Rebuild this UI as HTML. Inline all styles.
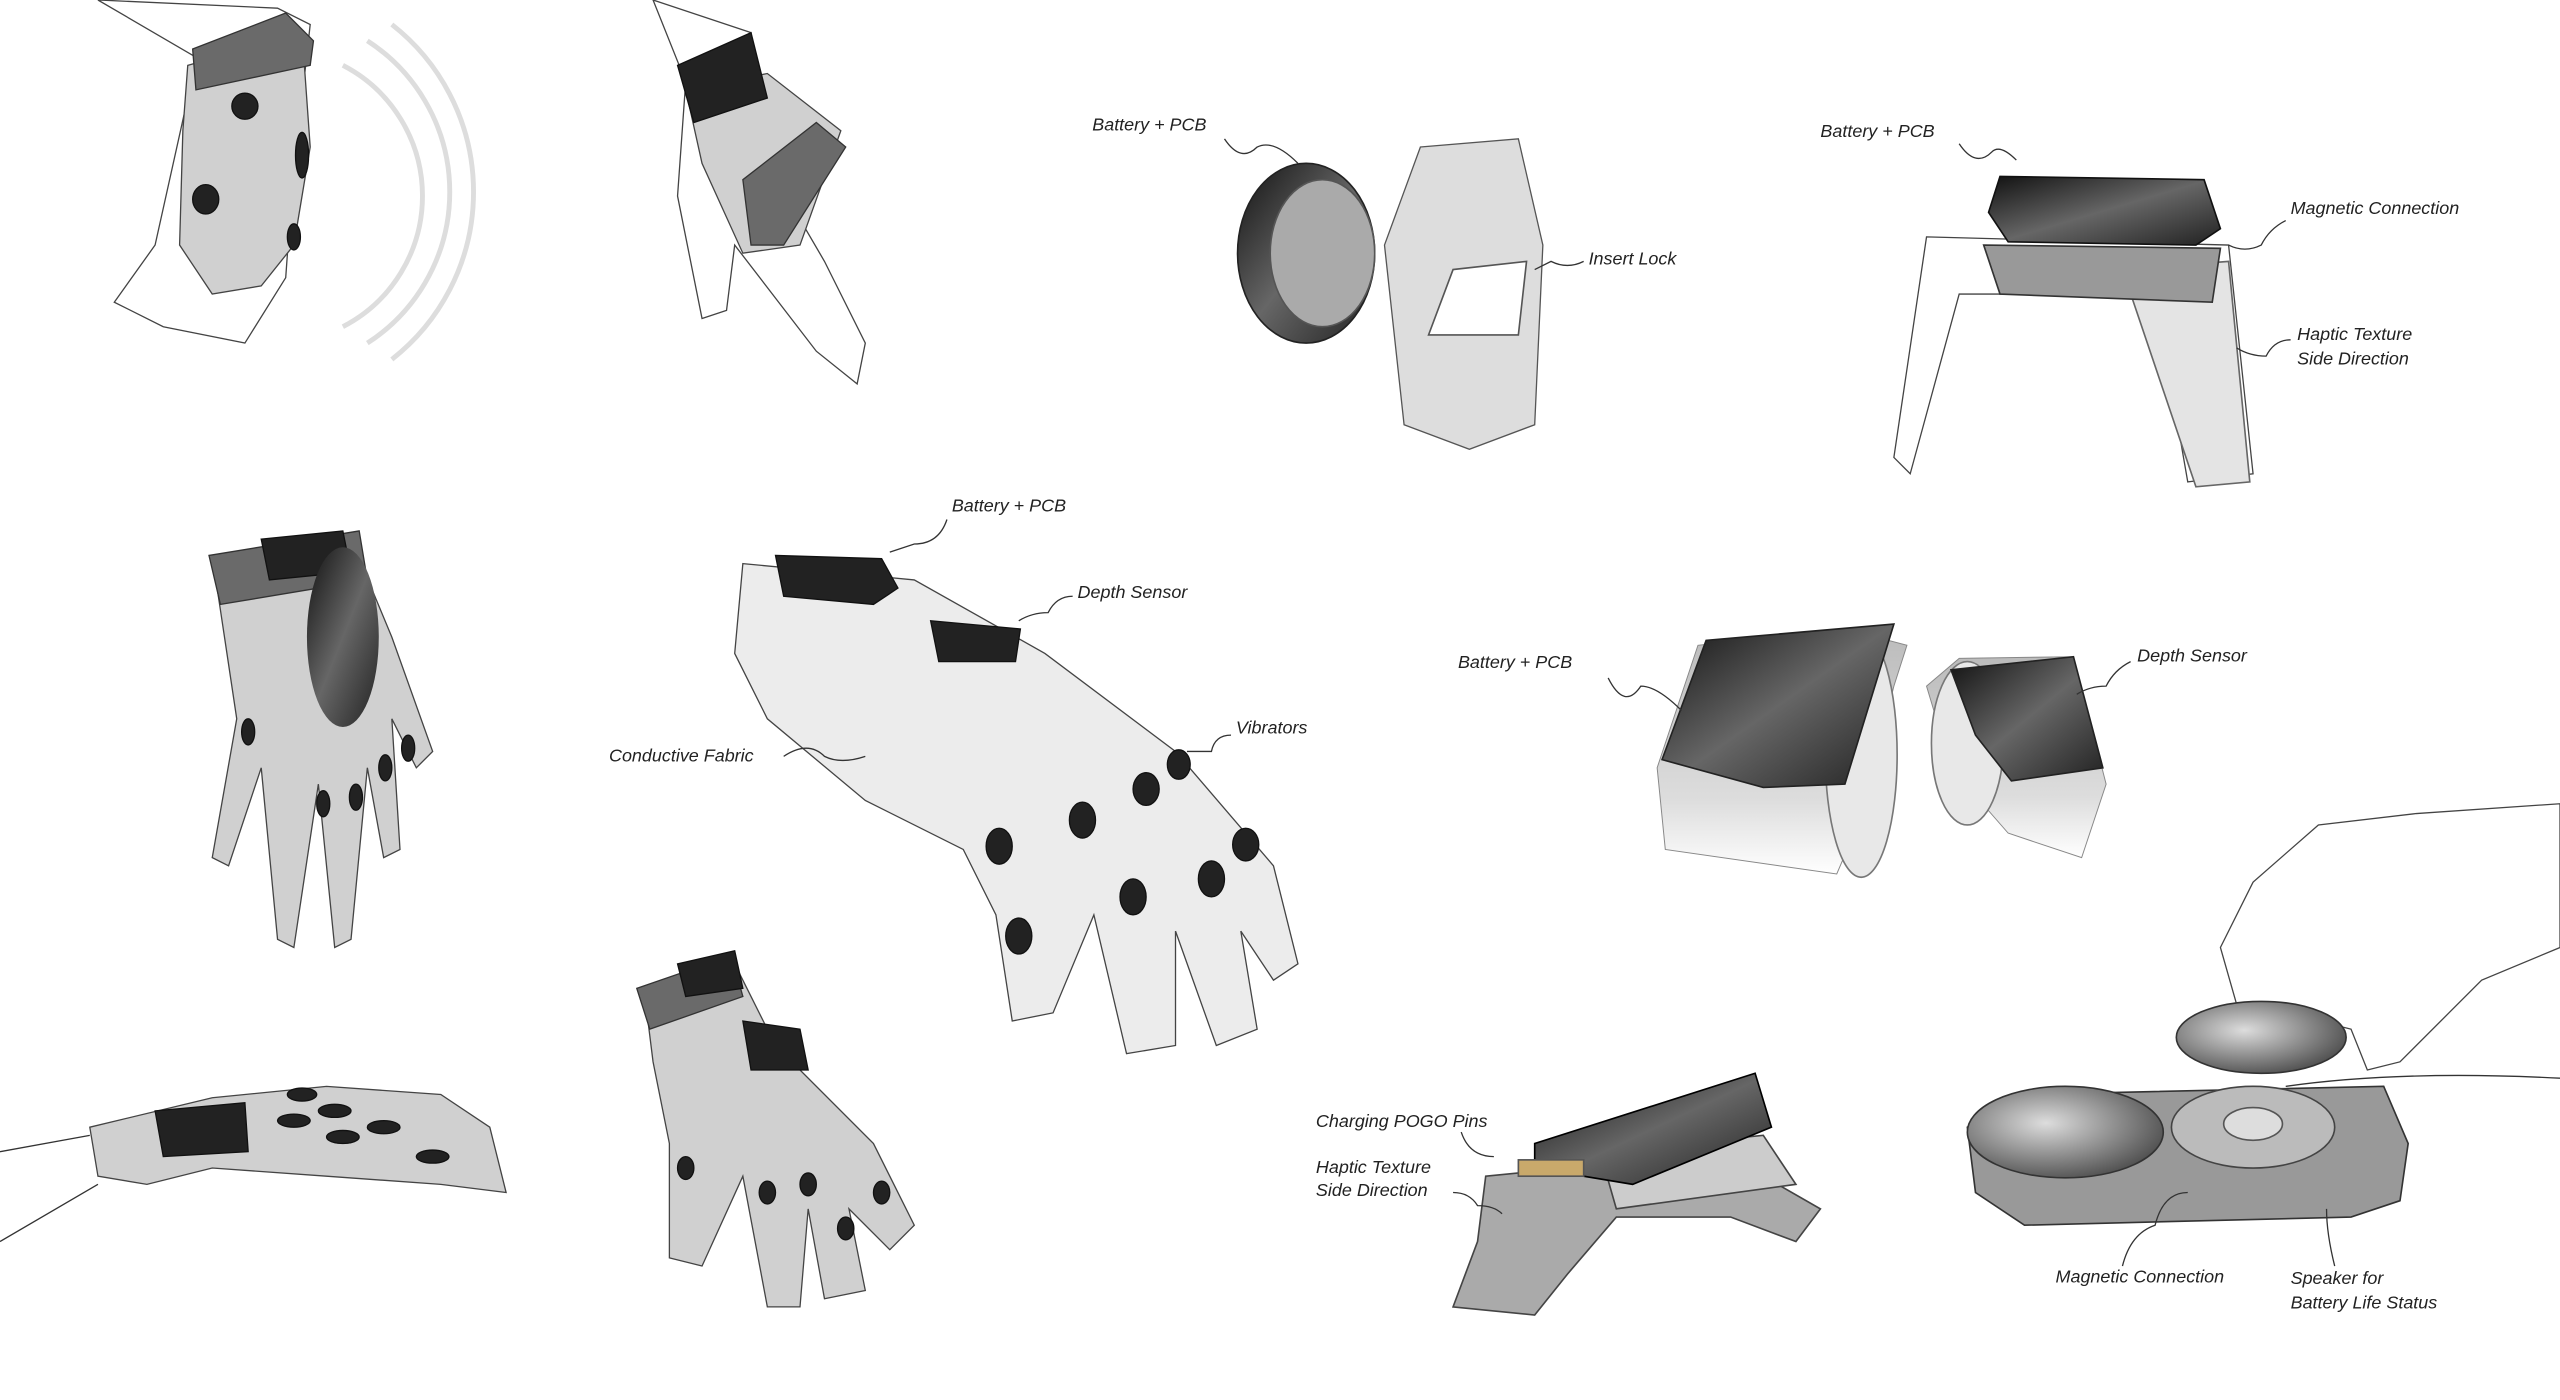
<!DOCTYPE html>
<html><head><meta charset="utf-8"><style>
html,body{margin:0;padding:0;background:#fff;}
svg{display:block;}
text{font-family:"Liberation Sans",sans-serif;font-style:italic;font-size:11px;fill:#222;}
.l{fill:none;stroke:#333;stroke-width:0.8;}
.h{fill:#d0d0d0;stroke:#444;stroke-width:0.8;}
.hw{fill:#fff;stroke:#444;stroke-width:0.8;}
.d{fill:#222;stroke:#111;stroke-width:0.8;}
.m{fill:#6a6a6a;stroke:#333;stroke-width:0.8;}
</style></head><body>
<svg width="2560" height="1400" viewBox="0 0 1568 857" preserveAspectRatio="none" xmlns="http://www.w3.org/2000/svg">
<defs>
<linearGradient id="g1" x1="0" y1="0" x2="1" y2="1"><stop offset="0" stop-color="#111"/><stop offset=".5" stop-color="#666"/><stop offset="1" stop-color="#222"/></linearGradient>
<radialGradient id="g2" cx=".4" cy=".4" r=".7"><stop offset="0" stop-color="#ddd"/><stop offset="1" stop-color="#444"/></radialGradient>
<linearGradient id="g3" x1="0" y1="0" x2="0" y2="1"><stop offset="0" stop-color="#bbb"/><stop offset=".7" stop-color="#ddd"/><stop offset="1" stop-color="#fff"/></linearGradient>
</defs>
<rect width="1568" height="857" fill="#fff"/>

<!-- hand 1 top-left -->
<path class="hw" d="M60,0 L120,35 L115,60 L95,150 L70,185 L100,200 L150,210 L175,170 L180,100 L185,60 L190,15 L170,5Z"/>
<path class="h" d="M115,40 L185,20 L190,90 L180,150 L160,175 L130,180 L110,150 L112,80Z"/>
<path class="m" d="M118,30 L175,8 L192,25 L190,40 L120,55Z"/>
<circle class="d" cx="150" cy="65" r="8"/><ellipse class="d" cx="126" cy="122" rx="8" ry="9"/><ellipse class="d" cx="185" cy="95" rx="4" ry="14"/><ellipse class="d" cx="180" cy="145" rx="4" ry="8"/>
<path d="M210,40 A90,90 0 0 1 210,200 M225,25 A110,110 0 0 1 225,210 M240,15 A130,130 0 0 1 240,220" fill="none" stroke="#ddd" stroke-width="3"/>

<!-- hand 2 -->
<path class="hw" d="M400,0 L420,50 L415,120 L430,195 L445,190 L450,150 L500,215 L525,235 L530,210 L505,160 L470,100 L460,20Z"/>
<path class="h" d="M420,55 L470,45 L515,80 L490,150 L455,155 L430,100Z"/>
<path class="d" d="M415,40 L460,20 L470,60 L425,75Z"/>
<path class="m" d="M455,110 L500,75 L518,90 L480,150 L460,150Z"/>

<!-- watch w/ insert lock -->
<path fill="#ddd" stroke="#555" stroke-width=".8" d="M870,90 L930,85 L945,150 L940,260 L900,275 L860,260 L848,150Z"/>
<path fill="#fff" stroke="#555" d="M875,205 L890,165 L935,160 L930,205Z"/>
<ellipse fill="url(#g1)" stroke="#222" cx="800" cy="155" rx="42" ry="55"/>
<ellipse fill="#aaa" stroke="#555" cx="810" cy="155" rx="32" ry="45"/>
<text x="669" y="80">Battery + PCB</text><path class="l" d="M750,85 q10,15 20,5 q10,-5 25,10"/>
<text x="973" y="162">Insert Lock</text><path class="l" d="M970,160 q-10,5 -20,0 l-10,5"/>

<!-- watch w/ magnetic -->
<path class="hw" d="M1180,145 L1365,150 L1380,290 L1340,295 L1320,180 L1200,180 L1170,290 L1160,280Z"/>
<path fill="#e4e4e4" stroke="#666" d="M1300,165 L1365,160 L1378,295 L1345,298Z"/>
<path fill="#999" stroke="#333" d="M1215,150 L1360,152 L1355,185 L1225,180Z"/>
<path fill="url(#g1)" stroke="#111" d="M1225,108 L1350,110 L1360,140 L1345,150 L1230,148 L1218,130Z"/>
<text x="1115" y="84">Battery + PCB</text><path class="l" d="M1200,88 q10,15 20,5 q5,-5 15,5"/>
<text x="1403" y="131">Magnetic Connection</text><path class="l" d="M1400,135 q-10,5 -15,15 q-10,5 -20,0"/>
<text x="1407" y="208">Haptic Texture</text><text x="1407" y="223">Side Direction</text><path class="l" d="M1403,208 q-10,0 -15,10 q-10,0 -18,-5"/>

<!-- glove 1 left mid -->
<path class="h" d="M130,340 L215,330 L240,390 L265,460 L255,470 L240,440 L245,520 L235,525 L225,470 L215,575 L205,580 L195,480 L180,580 L170,575 L160,470 L140,530 L130,525 L145,440 Z"/>
<path class="m" d="M128,340 L220,325 L225,355 L135,370Z"/>
<path class="d" d="M160,330 L210,325 L215,350 L165,355Z"/>
<ellipse fill="url(#g1)" cx="210" cy="390" rx="22" ry="55"/>
<ellipse class="d" cx="152" cy="448" rx="4" ry="8"/><ellipse class="d" cx="198" cy="492" rx="4" ry="8"/><ellipse class="d" cx="218" cy="488" rx="4" ry="8"/><ellipse class="d" cx="236" cy="470" rx="4" ry="8"/><ellipse class="d" cx="250" cy="458" rx="4" ry="8"/>

<!-- glove 2 center -->
<path fill="#ececec" stroke="#444" stroke-width=".8" d="M455,345 L560,355 L640,400 L720,460 L780,530 L795,590 L780,600 L760,570 L770,630 L745,640 L720,570 L720,640 L690,645 L670,560 L645,620 L620,625 L610,560 L590,520 L530,490 L470,440 L450,400Z"/>
<path class="d" d="M475,340 L540,342 L550,360 L535,370 L480,365Z"/>
<path class="d" d="M570,380 L625,385 L622,405 L575,405Z"/>
<g class="d"><ellipse cx="612" cy="518" rx="8" ry="11"/><ellipse cx="624" cy="573" rx="8" ry="11"/><ellipse cx="663" cy="502" rx="8" ry="11"/><ellipse cx="694" cy="549" rx="8" ry="11"/><ellipse cx="702" cy="483" rx="8" ry="10"/><ellipse cx="742" cy="538" rx="8" ry="11"/><ellipse cx="763" cy="517" rx="8" ry="10"/><ellipse cx="722" cy="468" rx="7" ry="9"/></g>
<text x="583" y="313">Battery + PCB</text><path class="l" d="M580,318 q-5,15 -20,15 l-15,5"/>
<text x="660" y="366">Depth Sensor</text><path class="l" d="M657,365 q-10,0 -15,10 q-10,0 -18,5"/>
<text x="373" y="466">Conductive Fabric</text><path class="l" d="M480,463 q15,-10 25,0 q10,5 25,0"/>
<text x="757" y="449">Vibrators</text><path class="l" d="M754,450 q-10,0 -12,10 q-10,0 -15,0"/>

<!-- glove 3 bottom-left -->
<path class="h" d="M55,690 L130,672 L200,665 L270,670 L300,690 L310,730 L270,725 L200,720 L130,715 L90,725 L60,720Z"/>
<path class="d" d="M95,680 L150,675 L152,705 L100,708Z"/>
<g class="d"><ellipse cx="185" cy="670" rx="9" ry="4"/><ellipse cx="205" cy="680" rx="10" ry="4"/><ellipse cx="235" cy="690" rx="10" ry="4"/><ellipse cx="265" cy="708" rx="10" ry="4"/><ellipse cx="210" cy="696" rx="10" ry="4"/><ellipse cx="180" cy="686" rx="10" ry="4"/></g>
<path class="l" d="M0,705 L55,695 M0,760 L60,725"/>

<!-- glove 4 -->
<path class="h" d="M395,610 L450,590 L475,640 L535,700 L560,750 L545,765 L520,740 L530,790 L505,795 L495,740 L490,800 L470,800 L455,720 L430,775 L410,770 L410,700 L400,650Z"/>
<path class="m" d="M390,605 L448,585 L455,610 L398,630Z"/>
<path class="d" d="M415,590 L450,582 L455,605 L420,610Z"/><path class="d" d="M455,625 L490,630 L495,655 L460,655Z"/>
<g class="d"><ellipse cx="420" cy="715" rx="5" ry="7"/><ellipse cx="470" cy="730" rx="5" ry="7"/><ellipse cx="495" cy="725" rx="5" ry="7"/><ellipse cx="518" cy="752" rx="5" ry="7"/><ellipse cx="540" cy="730" rx="5" ry="7"/></g>

<!-- bands middle right (rings) -->
<path fill="url(#g3)" stroke="#888" stroke-width=".6" d="M1015,470 L1020,520 L1125,535 L1140,500 L1160,420 L1168,395 L1130,385 L1040,395Z"/>
<ellipse fill="#e8e8e8" stroke="#777" cx="1140" cy="462" rx="22" ry="75"/>
<path fill="url(#g1)" stroke="#222" d="M1018,465 L1045,392 L1160,382 L1130,480 L1080,482Z"/>
<path fill="url(#g3)" stroke="#888" stroke-width=".6" d="M1180,420 L1200,403 L1270,402 L1290,480 L1275,525 L1230,510 L1195,470Z"/>
<ellipse fill="#e8e8e8" stroke="#777" cx="1205" cy="455" rx="22" ry="50"/>
<path fill="url(#g1)" stroke="#222" d="M1195,410 L1270,402 L1288,470 L1232,478 L1210,450Z"/>
<text x="893" y="409">Battery + PCB</text><path class="l" d="M985,415 q10,20 20,5 q10,0 25,15"/>
<text x="1309" y="405">Depth Sensor</text><path class="l" d="M1305,405 q-10,5 -15,15 q-10,0 -18,5"/>

<!-- watch charging bottom -->
<path fill="#aaa" stroke="#444" d="M910,720 L960,715 L1080,720 L1115,740 L1100,760 L1060,745 L990,745 L960,780 L940,805 L890,800 L905,760Z"/>
<path fill="#ccc" stroke="#444" d="M980,705 L1080,695 L1100,725 L990,740Z"/>
<path fill="url(#g1)" stroke="#000" d="M940,700 L1075,657 L1085,690 L1000,725 L940,715Z"/>
<rect x="930" y="710" width="40" height="10" fill="#c9a96b" stroke="#555"/>
<text x="806" y="690">Charging POGO Pins</text><path class="l" d="M895,693 q5,15 20,15"/>
<text x="806" y="718">Haptic Texture</text><text x="806" y="732">Side Direction</text><path class="l" d="M890,730 q10,0 15,8 q10,0 15,5"/>

<!-- charger + hand bottom right -->
<path class="hw" d="M1360,580 L1380,540 L1420,505 L1480,498 L1568,492 L1568,580 L1520,600 L1500,620 L1470,650 L1450,655 L1440,630 L1400,620 L1370,615Z"/>
<ellipse fill="url(#g2)" stroke="#333" cx="1385" cy="635" rx="52" ry="22"/>
<path fill="#999" stroke="#333" d="M1205,690 L1240,670 L1460,665 L1475,700 L1470,735 L1440,745 L1240,750 L1210,730Z"/>
<ellipse fill="#bbb" stroke="#444" cx="1380" cy="690" rx="50" ry="25"/>
<ellipse fill="#ddd" stroke="#555" cx="1380" cy="688" rx="18" ry="10"/>
<ellipse fill="url(#g2)" stroke="#333" cx="1265" cy="693" rx="60" ry="28"/>
<path class="l" d="M1400,665 Q1470,655 1568,660"/>
<text x="1259" y="785">Magnetic Connection</text><path class="l" d="M1300,775 q5,-20 20,-25 q5,-20 20,-20"/>
<text x="1403" y="786">Speaker for</text><text x="1403" y="801">Battery Life Status</text><path class="l" d="M1430,775 q-5,-20 -5,-35"/>
</svg>
</body></html>
